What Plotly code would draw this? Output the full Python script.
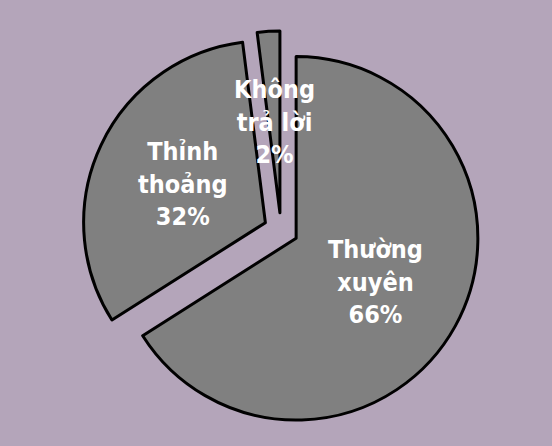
import math
import plotly.graph_objects as go

labels = ["Thường xuyên", "Thỉnh thoảng", "Không trả lời"]
label_lines = ["Thường<br>xuyên", "Thỉnh<br>thoảng", "Không<br>trả lời"]
values = [66, 32, 2]
pulls = [0.095, 0.095, 0.095]

W, H = 552, 446
dom_x = [82 / W, 480 / W]
dom_y = [1 - 429 / H, 1 - 31 / H]

fig = go.Figure(go.Pie(
    labels=labels,
    values=values,
    pull=pulls,
    sort=False,
    direction="clockwise",
    rotation=0,
    textinfo="none",
    hoverinfo="label+percent",
    marker=dict(colors=["#808080"] * 3, line=dict(color="#000000", width=3)),
    domain=dict(x=dom_x, y=dom_y),
    showlegend=False,
))

# label positions derived from the data (slice bisectors), like the pie's own geometry
box_w = (dom_x[1] - dom_x[0]) * W
box_h = (dom_y[1] - dom_y[0]) * H
cx = (dom_x[0] + dom_x[1]) / 2 * W
cy = (dom_y[0] + dom_y[1]) / 2 * H  # measured from bottom
r = min(box_w, box_h) / (2 + 2 * max(pulls))
total = sum(values)
start = 0.0
annotations = []
for txt, v, p in zip(label_lines, values, pulls):
    pct = round(100 * v / total)
    mid = math.radians(start + 360 * v / total / 2)
    d = p * r + 0.5 * r
    x = cx + d * math.sin(mid)
    y = cy + d * math.cos(mid)
    annotations.append(dict(
        x=x / W, y=y / H, xref="paper", yref="paper",
        text=f"{txt}<br>{pct}%", showarrow=False,
        font=dict(family="DejaVu Sans Condensed, Liberation Sans Narrow, sans-serif",
                  size=25, color="white", weight="bold"),
        align="center", xanchor="center", yanchor="middle",
    ))
    start += 360 * v / total

fig.update_layout(
    width=W, height=H,
    margin=dict(l=0, r=0, t=0, b=0),
    paper_bgcolor="#b4a5ba",
    plot_bgcolor="#b4a5ba",
    annotations=annotations,
)

fig.write_html("out.html")
